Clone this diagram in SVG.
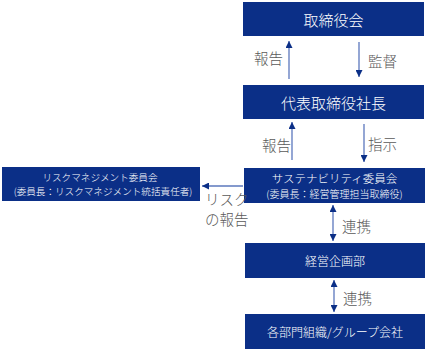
<svg xmlns="http://www.w3.org/2000/svg" width="427" height="352" viewBox="0 0 427 352">
<style>
.box{fill:#0b2f87;}
.t{fill:#ffffff;font-family:"Noto Sans CJK JP","Noto Sans",sans-serif;font-weight:300;text-anchor:middle;dominant-baseline:central;}
.lbl{fill:#595959;font-family:"Noto Sans CJK JP","Noto Sans",sans-serif;font-weight:300;font-size:14.5px;dominant-baseline:central;}
.ar{stroke:#5b77bd;stroke-width:1.3;fill:none;}
</style>
<defs>
<marker id="ah" viewBox="0 0 8 8" refX="8" refY="4" markerWidth="7" markerHeight="7" markerUnits="userSpaceOnUse" orient="auto-start-reverse">
<path d="M0,0 L8,4 L0,8 Z" fill="#0b2f87"/>
</marker>
</defs>
<rect width="427" height="352" fill="#ffffff"/>
<g id="n1"><rect class="box" x="243" y="2" width="181" height="34"/><text class="t" x="333.5" y="19" font-size="15">取締役会</text></g>
<g id="n2"><rect class="box" x="243" y="85" width="181" height="34"/><text class="t" x="333.5" y="102" font-size="15">代表取締役社長</text></g>
<g id="n3"><rect class="box" x="244" y="168" width="181" height="35"/><text class="t" x="334.5" y="178" font-size="11.5">サステナビリティ委員会</text><text class="t" x="334.5" y="193" font-size="10">(委員長：経営管理担当取締役)</text></g>
<g id="n4"><rect class="box" x="245" y="243" width="180" height="35"/><text class="t" x="335" y="260.5" font-size="12">経営企画部</text></g>
<g id="n5"><rect class="box" x="245" y="314" width="180" height="35"/><text class="t" x="335" y="331.5" font-size="12">各部門組織/グループ会社</text></g>
<g id="n6"><rect class="box" x="2" y="167" width="198" height="34"/><text class="t" x="100" y="177" font-size="9.6">リスクマネジメント委員会</text><text class="t" x="103" y="191" font-size="9.6">(委員長：リスクマネジメント統括責任者)</text></g>
<g id="connectors">
<line class="ar" x1="289" y1="79" x2="289" y2="41" marker-end="url(#ah)"/>
<line class="ar" x1="359" y1="42" x2="359" y2="77" marker-end="url(#ah)"/>
<line class="ar" x1="292" y1="160" x2="292" y2="122" marker-end="url(#ah)"/>
<line class="ar" x1="364" y1="124" x2="364" y2="162" marker-end="url(#ah)"/>
<line class="ar" x1="333" y1="205" x2="333" y2="241" marker-start="url(#ah)" marker-end="url(#ah)"/>
<line class="ar" x1="334" y1="280" x2="334" y2="312" marker-start="url(#ah)" marker-end="url(#ah)"/>
<line class="ar" x1="243" y1="186" x2="202" y2="186" marker-end="url(#ah)"/>
<text class="lbl" x="254" y="57.5">報告</text>
<text class="lbl" x="368" y="60">監督</text>
<text class="lbl" x="262" y="144">報告</text>
<text class="lbl" x="368" y="143">指示</text>
<text class="lbl" x="342" y="225" font-size="15">連携</text>
<text class="lbl" x="343" y="297" font-size="15">連携</text>
<text class="lbl" x="205" y="198.5" font-size="12.5">リスク</text>
<text class="lbl" x="205" y="218" font-size="12.5">の報告</text>
</g>
</svg>
